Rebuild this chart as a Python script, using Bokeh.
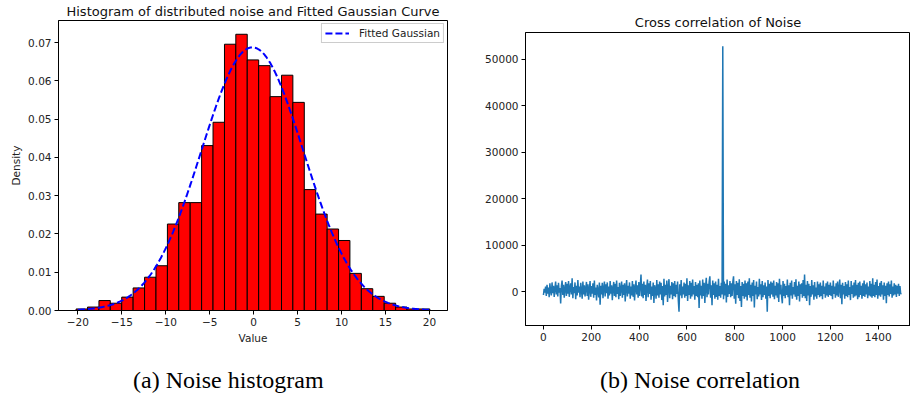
import numpy as np
from bokeh.plotting import figure
from bokeh.layouts import row, column
from bokeh.models import (FixedTicker, Range1d, Legend, LegendItem, Div,
                          NumeralTickFormatter, ColumnDataSource)
from bokeh.embed import file_html
from bokeh.resources import INLINE

# ---------------- data: histogram ----------------
bin_edges = [-20.2, -18.9, -17.6, -16.31, -15.01, -13.71, -12.41, -11.11, -9.81, -8.52,
             -7.22, -5.92, -4.62, -3.32, -2.03, -0.73, 0.57, 1.87, 3.17, 4.46,
             5.76, 7.06, 8.36, 9.66, 10.95, 12.25, 13.55, 14.85, 16.15, 17.44,
             18.74, 20.04]
densities = [0.0004, 0.0009, 0.0026, 0.0019, 0.0035, 0.0059, 0.0087, 0.0117, 0.0226, 0.0282,
             0.0282, 0.0431, 0.0492, 0.0696, 0.0722, 0.0655, 0.0640, 0.0559, 0.0615, 0.0544,
             0.0316, 0.0252, 0.0213, 0.0183, 0.0097, 0.0057, 0.0037, 0.0019, 0.0009, 0.0004,
             0.0004]
fit_mu = -0.15
fit_sigma = 5.8
hist_xticks = [-20, -15, -10, -5, 0, 5, 10, 15, 20]
hist_yticks = [0.0, 0.01, 0.02, 0.03, 0.04, 0.05, 0.06, 0.07]

# ---------------- data: correlation ----------------
corr_lag_step = 3
corr_values = [
    -700, 600, -200, 1100, -900, 1500, -400, 900, -1200, 1800, 200, -800, 2000, -300, 1300, -1100, 700, 2200, -600, 1400,
    -1000, 1900, -200, 800, -2500, 1200, 2400, -700, 1500, -1300, 600, 2100, -900, 1700, -400, 2300, -1100, 900, 1800, -600,
    2900, -1400, 1000, -300, 2000, -1600, 1300, -800, 2500, -200, 1100, -1200, 1900, 400, -1500, 2200, -600, 1400, -1000, 700,
    2100, -900, 1600, -1700, 500, 2300, -1100, 1200, -400, 1800, -1300, 2400, -700, 900, -1900, 1500, 300, -1200, 2000, -2800,
    1300, -600, 1900, -1400, 800, 2200, -1000, 1600, -300, 2000, -1500, 1100, -800, 2300, -400, 1400, -1800, 700, 2100, -900,
    1700, -1200, 2400, -500, 1000, -1600, 1900, -900, 600, 2200, -1300, 1500, -700, 1800, -2100, 900, 2500, -1000, 1300, -400,
    2000, -1500, 1100, -800, 2300, -1100, 1600, -1900, 800, 2400, -600, 1400, -1300, 2100, -900, 1200, 3700, -1000, 1700, -1400,
    2200, -700, 1500, -2000, 1000, 2600, -1200, 1800, -500, 2300, -1700, 1100, -900, 2000, -2400, 1400, 600, -1500, 2500, -800,
    1600, -1300, 2200, -600, 1900, -1800, 1200, -2900, 2800, -1000, 1500, -700, 2400, -2200, 900, 2700, -1400, 1300, -600, 2100,
    -1600, 1800, -900, 2300, -1200, 1500, -500, 2200, -1800, -4300, 1600, -800, 2500, -1400, 1100, -600, 2000, -1300, 1700, -900,
    2900, -2000, 1400, -700, 2300, -1500, 1900, -1000, 2600, -600, 1200, -1700, 2100, -900, 1500, -1200, 1800, -3500, 2400, -800,
    1300, -1500, 2600, -900, 1900, -2400, 1100, 3000, -1200, 1700, -600, 2200, 3300, -1300, 1400, -2900, 2400, -700, 1800, -1500,
    2200, -1100, 1500, -1700, 2800, -900, 1200, -1300, 1900, -600, 52800, -1600, 2200, -800, 1700, -2300, 2600, -1100, 1400, -500,
    2300, -1200, 1800, -900, 2100, 3300, -1500, 1600, -2600, 2300, -700, 1900, -1400, 2700, -2000, 1200, -3300, 2100, -900, 1700,
    -1500, 2400, -1100, 1800, -1900, 2200, -700, 2900, -1300, 1500, -2100, 2000, -900, 2500, -3400, 1300, -600, 2200, -1600, 1000,
    -1000, 2800, -600, 1600, -1800, 2300, -1200, 1400, -700, 2000, -1500, 1100, -4300, 2500, -900, 1700, -1400, 2200, -600, 1900,
    -1100, 2400, -1600, 1300, -800, 2100, -1300, 1800, -2200, 2800, -600, 1500, -1000, -2500, 2300, -900, 1700, -1400, 1200, -700,
    2600, -1200, 1400, -2900, 1900, -800, 2400, -1500, 1000, -600, 2100, -1100, 2700, -1700, 1300, -900, 2200, -2100, 1600, -500,
    1800, -1300, 2500, -900, 3700, -1400, 1500, -2000, 2300, -800, 1700, -2900, 1200, -1100, 2500, -600, 1400, -1700, 2100, -1000,
    900, -1500, 2200, -700, 1600, -1200, 2000, -900, 1300, -1600, 2400, -500, 1100, -1300, 1800, -800, 2200, -1100, 1500, -700,
    2000, -900, 1300, -1600, 2400, -500, 1100, -1300, 1800, -800, 2200, -1100, 700, 2600, -1400, 1500, -2700, 1900, -600, 1200,
    -1500, 2100, -900, 1600, -1200, 2400, -700, 1000, -1800, 2300, -500, 1400, -1300, 2000, -1000, 2500, -800, 1500, -1600, 1900,
    -1200, 2200, -700, 1300, -1500, 1800, -900, 2400, -1100, 1600, -600, 2000, -1400, 1100, -800, 2300, -1000, 1700, -1300, 2900,
    -900, 1500, -1200, 2100, -700, 2600, -1500, 1200, -800, 1900, -1100, 2300, -600, 1400, -1700, 2000, -900, 1300, -2500, 1800,
    -700, 2200, -1000, 1600, -500, 2400, -1300, 1100, -800, 1800, -600, 1500, -1100, 1300, -400, 1700, -900, 1200, -500, -300,
]
corr_xticks = [0, 200, 400, 600, 800, 1000, 1200, 1400]
corr_yticks = [0, 10000, 20000, 30000, 40000, 50000]

captions = ["(a) Noise histogram", "(b) Noise correlation"]

FONT = "DejaVu Sans"
TICK_SIZE = "10.5px"


def style_axes(p):
    p.grid.visible = False
    p.outline_line_color = "black"
    p.outline_line_width = 1
    p.outline_line_alpha = 1
    for ax in (p.xaxis[0], p.yaxis[0]):
        ax.axis_line_color = "black"
        ax.axis_line_width = 1
        ax.major_tick_line_color = "black"
        ax.major_tick_out = 4
        ax.major_tick_in = 0
        ax.minor_tick_line_color = None
        ax.major_label_text_font = FONT
        ax.major_label_text_font_size = TICK_SIZE
        ax.major_label_text_color = "#222222"
        ax.major_label_standoff = 3
        ax.axis_label_text_font = FONT
        ax.axis_label_text_font_size = TICK_SIZE
        ax.axis_label_text_font_style = "normal"
        ax.axis_label_text_color = "#222222"
        ax.axis_label_standoff = 3
    p.title.text_font = FONT
    p.title.text_font_size = "13px"
    p.title.text_font_style = "normal"
    p.title.text_color = "#111111"
    p.title.align = "center"


def caption_div(text, width, pad_left):
    html = ('<div style="margin:13px 0 0 %dpx; font-family:\'Liberation Serif\',serif; '
            'font-size:24px; line-height:24px; white-space:nowrap; color:black;">%s</div>'
            % (pad_left, text))
    return Div(text=html, width=width, height=43, margin=(0, 0, 0, 0))


# ---------------- left: histogram ----------------
p1 = figure(width=470, height=355, x_range=Range1d(-22.2, 22.05), y_range=Range1d(0, 0.0758),
            output_backend="svg", toolbar_location=None,
            title="Histogram of distributed noise and Fitted Gaussian Curve",
            min_border_left=58, min_border_right=23, min_border_top=0, min_border_bottom=45)
src = ColumnDataSource(dict(left=bin_edges[:-1], right=bin_edges[1:], top=densities,
                            bottom=[0] * len(densities)))
p1.quad(left="left", right="right", top="top", bottom="bottom", source=src,
        fill_color="red", line_color="black", line_width=1)
gx = np.linspace(-20, 20, 400)
gy = np.exp(-0.5 * ((gx - fit_mu) / fit_sigma) ** 2) / (fit_sigma * np.sqrt(2 * np.pi))
gl = p1.line(gx, gy, line_color="blue", line_width=2, line_dash="7 3")
leg = Legend(items=[LegendItem(label="Fitted Gaussian", renderers=[gl])], location="top_right")
leg.label_text_font = FONT
leg.label_text_font_size = TICK_SIZE
leg.label_text_color = "#222222"
leg.border_line_color = "#cccccc"
leg.border_line_alpha = 1
leg.background_fill_alpha = 0.8
leg.margin = 3
leg.padding = 3
leg.glyph_width = 24
leg.glyph_height = 12
leg.label_height = 12
leg.label_standoff = 10
p1.add_layout(leg)
style_axes(p1)
p1.title.standoff = 3
p1.xaxis.axis_label = "Value"
p1.yaxis.axis_label = "Density"
p1.xaxis.ticker = FixedTicker(ticks=hist_xticks)
p1.xaxis.major_label_overrides = {t: str(t).replace("-", "\u2212") for t in hist_xticks}
p1.yaxis.ticker = FixedTicker(ticks=hist_yticks)
p1.yaxis.formatter = NumeralTickFormatter(format="0.00")

# ---------------- right: correlation ----------------
lags = list(range(0, corr_lag_step * len(corr_values), corr_lag_step))
p2 = figure(width=440, height=355, x_range=Range1d(-75, 1535), y_range=Range1d(-7265, 55750),
            output_backend="svg", toolbar_location=None, title="Cross correlation of Noise",
            min_border_left=55, min_border_right=0, min_border_top=32, min_border_bottom=30)
p2.line(lags, corr_values, line_color="#1f77b4", line_width=1.5)
style_axes(p2)
p2.title.standoff = 5
p2.xaxis.ticker = FixedTicker(ticks=corr_xticks)
p2.yaxis.ticker = FixedTicker(ticks=corr_yticks)
p2.yaxis.formatter = NumeralTickFormatter(format="0")

layout = row(column(p1, caption_div(captions[0], 470, 133), spacing=0),
             column(p2, caption_div(captions[1], 440, 130), spacing=0),
             spacing=0)
open("out.html", "w").write(file_html(layout, INLINE))
